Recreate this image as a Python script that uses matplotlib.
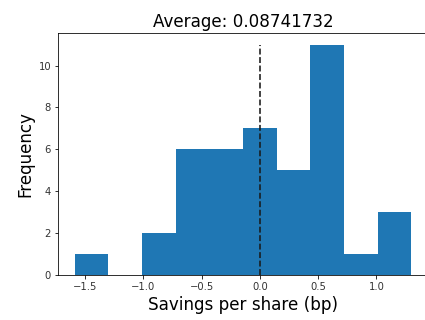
import matplotlib
matplotlib.use("Agg")
import matplotlib.pyplot as plt

bin_edges = [-1.589, -1.300, -1.012, -0.723, -0.434, -0.146, 0.143, 0.432, 0.721, 1.009, 1.298]
counts = [1, 0, 2, 6, 6, 7, 5, 11, 1, 3]
title = "Average: 0.08741732"
xlabel = "Savings per share (bp)"
ylabel = "Frequency"
ref_x = 0.0
ref_top = 11

fig = plt.figure(figsize=(425/72, 320/72), dpi=72)
ax = fig.add_axes([58/425, 45.3/320, 370/425, 241.4/320])
ax.hist(bin_edges[:-1], bins=bin_edges, weights=counts, color="#1f77b4")
ax.vlines(ref_x, 0, ref_top, linestyles="dashed", colors="#1a1a1a", linewidth=1.6)
ax.set_title(title, fontsize=16.7)
ax.set_xlabel(xlabel, fontsize=16.7)
ax.set_ylabel(ylabel, fontsize=16.7)
ax.tick_params(labelsize=10, labelcolor="#333333")
ax.set_xlim(-1.733, 1.442)
ax.set_ylim(0, 11.55)
fig.savefig("out.png", dpi=72)
